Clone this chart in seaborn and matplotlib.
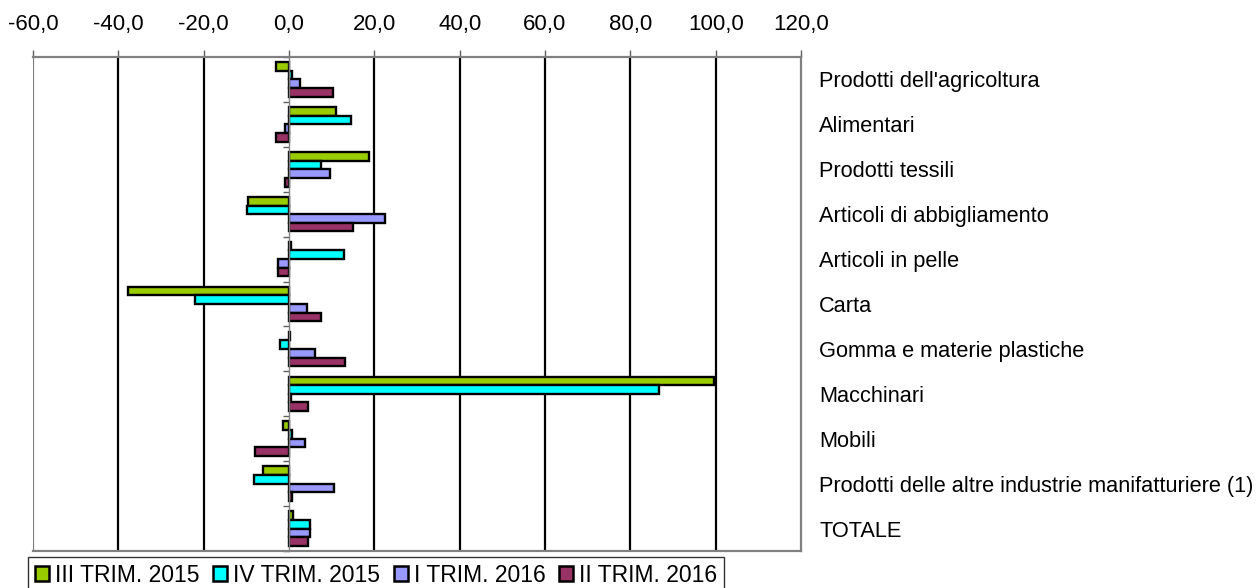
import matplotlib
matplotlib.use("Agg")
import matplotlib.pyplot as plt
import seaborn as sns
import pandas as pd
from matplotlib.ticker import FuncFormatter, FixedLocator
from matplotlib.patches import Patch

categories = [
    "Prodotti dell'agricoltura",
    "Alimentari",
    "Prodotti tessili",
    "Articoli di abbigliamento",
    "Articoli in pelle",
    "Carta",
    "Gomma e materie plastiche",
    "Macchinari",
    "Mobili",
    "Prodotti delle altre industrie manifatturiere (1)",
    "TOTALE",
]
periods = ["III TRIM. 2015", "IV TRIM. 2015", "I TRIM. 2016", "II TRIM. 2016"]

iii_2015 = [-3.0, 11.0, 18.8, -9.5, 0.5, -37.8, 0.3, 99.5, -1.3, -6.0, 1.0]
iv_2015 = [0.6, 14.5, 7.5, -9.8, 12.8, -22.0, -2.0, 86.8, 0.6, -8.2, 4.9]
i_2016 = [2.5, -1.0, 9.5, 22.5, -2.5, 4.2, 6.0, 0.4, 3.8, 10.6, 4.9]
ii_2016 = [10.3, -3.0, -1.0, 15.0, -2.5, 7.6, 13.2, 4.5, -8.0, 0.8, 4.4]

x_ticks = [-60, -40, -20, 0, 20, 40, 60, 80, 100, 120]
colors = ["#99CC00", "#00FFFF", "#9999FF", "#993366"]

series = [iii_2015, iv_2015, i_2016, ii_2016]
rows = []
for p, vals in zip(periods, series):
    for c, v in zip(categories, vals):
        rows.append({"categoria": c, "periodo": p, "valore": v})
df = pd.DataFrame(rows)

sns.set_style("white")
plt.rcParams["font.family"] = ["Liberation Sans", "DejaVu Sans"]
plt.rcParams["text.color"] = "black"
plt.rcParams["xtick.labelcolor"] = "black"
plt.rcParams["ytick.labelcolor"] = "black"
FS_TICK = 16
FS_CAT = 15.7
FS_LEG = 16.5

fig = plt.figure(figsize=(12.56, 5.88), dpi=100)
W, H = 1256, 588
left, right, top, bottom = 33, 801, 57, 551
ax = fig.add_axes([left / W, 1 - bottom / H, (right - left) / W, (bottom - top) / H])

sns.barplot(
    data=df, y="categoria", x="valore", hue="periodo",
    order=categories, hue_order=periods, palette=colors,
    orient="h", width=0.77, gap=0, edgecolor="black", linewidth=1.7,
    errorbar=None, ax=ax, legend=False, saturation=1,
)

ax.set_xlim(x_ticks[0], x_ticks[-1])
ax.set_ylim(len(categories) - 0.5, -0.5)
ax.set_xlabel("")
ax.set_ylabel("")

# top x axis
ax.xaxis.tick_top()
ax.xaxis.set_major_locator(FixedLocator(x_ticks))
ax.xaxis.set_major_formatter(FuncFormatter(lambda v, p: f"{v:.1f}".replace(".", ",")))
ax.tick_params(axis="x", which="major", direction="out", length=5, width=1,
               color="#606060", labelsize=FS_TICK, labelcolor="black", pad=11,
               top=True, bottom=False)

# vertical grid lines
ax.grid(axis="x", color="black", linewidth=1.6)
for gl, t in zip(ax.get_xgridlines(), x_ticks):
    if t == 0 or t == x_ticks[-1]:
        gl.set_visible(False)
    elif t == x_ticks[0]:
        gl.set_color("#808080")
ax.set_axisbelow(True)

# category axis at zero
ax.spines["left"].set_position(("data", 0))
ax.spines["left"].set_color("#808080")
ax.spines["left"].set_linewidth(1)
for s in ["top", "right", "bottom"]:
    ax.spines[s].set_color("#808080")
    ax.spines[s].set_linewidth(1.6)
    ax.spines[s].set_visible(True)

ax.yaxis.set_major_locator(FixedLocator(range(len(categories))))
ax.set_yticklabels(categories)
ax.yaxis.set_minor_locator(FixedLocator([i - 0.5 for i in range(len(categories) + 1)]))
ax.tick_params(axis="y", which="major", left=False, right=True, length=0,
               labelleft=False, labelright=True, labelsize=FS_CAT,
               labelcolor="black", pad=13)
ax.tick_params(axis="y", which="minor", left=True, right=False, length=4,
               width=1, color="#606060", direction="out")

# legend
handles = [Patch(facecolor=c, edgecolor="black", linewidth=1.8) for c in colors]
leg = fig.legend(handles, periods, loc="upper left",
                 bbox_to_anchor=(28 / W, 1 - 557 / H), ncol=4, fontsize=FS_LEG,
                 frameon=True, fancybox=False, edgecolor="black",
                 handlelength=0.62, handleheight=0.62, handletextpad=0.25,
                 columnspacing=0.6, borderpad=0.3, borderaxespad=0)
leg.get_frame().set_linewidth(1)
for t in leg.get_texts():
    t.set_color("black")

fig.savefig("out.png", dpi=100)
